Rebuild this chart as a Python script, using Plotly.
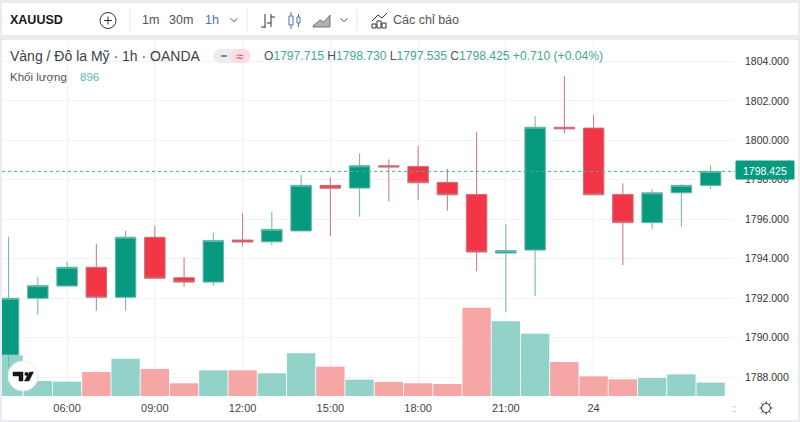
import math
import plotly.graph_objects as go

# hourly candles, 04:00 on the 23rd to 04:00 on the 24th
times = ["2021-08-23 04:00", "2021-08-23 05:00", "2021-08-23 06:00", "2021-08-23 07:00", "2021-08-23 08:00",
         "2021-08-23 09:00", "2021-08-23 10:00", "2021-08-23 11:00", "2021-08-23 12:00", "2021-08-23 13:00",
         "2021-08-23 14:00", "2021-08-23 15:00", "2021-08-23 16:00", "2021-08-23 17:00", "2021-08-23 18:00",
         "2021-08-23 19:00", "2021-08-23 20:00", "2021-08-23 21:00", "2021-08-23 22:00", "2021-08-23 23:00",
         "2021-08-24 00:00", "2021-08-24 01:00", "2021-08-24 02:00", "2021-08-24 03:00", "2021-08-24 04:00"]
opens = [1789.13, 1792.00, 1792.62, 1793.57, 1792.05, 1795.09, 1793.04, 1792.82, 1794.95, 1794.86, 1795.41, 1797.72,
         1797.58, 1798.71, 1798.68, 1797.87, 1797.26, 1794.29, 1794.44, 1800.66, 1800.62, 1797.26, 1795.83, 1797.34,
         1797.715]
highs = [1795.12, 1793.09, 1793.85, 1794.75, 1795.41, 1795.67, 1794.07, 1795.32, 1796.30, 1796.38, 1798.24, 1798.12,
         1799.34, 1799.04, 1799.71, 1798.56, 1800.42, 1795.76, 1801.23, 1803.25, 1801.29, 1797.82, 1797.55, 1797.77,
         1798.730]
lows = [1788.53, 1791.15, 1792.62, 1791.37, 1791.37, 1793.01, 1792.58, 1792.62, 1794.61, 1794.70, 1795.41, 1795.15,
        1796.13, 1796.89, 1796.97, 1796.43, 1793.38, 1791.30, 1792.11, 1800.35, 1797.24, 1793.68, 1795.51, 1795.62,
        1797.535]
closes = [1792.00, 1792.64, 1793.57, 1792.05, 1795.09, 1793.01, 1792.82, 1794.93, 1794.85, 1795.49, 1797.72, 1797.57,
          1798.71, 1798.65, 1797.85, 1797.24, 1794.34, 1794.42, 1800.66, 1800.58, 1797.24, 1795.83, 1797.34, 1797.72,
          1798.425]
volumes = [2720, 1000, 960, 1605, 2500, 1805, 850, 1720, 1720, 1520, 2855, 1965, 1095, 935, 850, 803, 5910, 4995,
           4170, 2275, 1315, 1115, 1205, 1450, 896]

price_ticks = [1788, 1790, 1792, 1794, 1796, 1798, 1800, 1802, 1804]
time_ticks = ["2021-08-23 06:00", "2021-08-23 09:00", "2021-08-23 12:00", "2021-08-23 15:00",
              "2021-08-23 18:00", "2021-08-23 21:00", "2021-08-24 00:00"]
time_labels = ["06:00", "09:00", "12:00", "15:00", "18:00", "21:00", "24"]

GREEN = "#089981"
RED = "#f23645"
GREY = "#50535e"
FONT = "Liberation Sans"
W, H = 800, 422


def px(x):
    return x / W


def py(y):
    return 1 - y / H


def line(x0, y0, x1, y1, color=GREY, width=1):
    return dict(type="line", xref="paper", yref="paper", x0=px(x0), y0=py(y0), x1=px(x1), y1=py(y1),
                line=dict(color=color, width=width))


def box(x0, y0, x1, y1, fill, color=None, width=0):
    return dict(type="rect", xref="paper", yref="paper", x0=px(x0), y0=py(y0), x1=px(x1), y1=py(y1),
                fillcolor=fill, line=dict(color=color or fill, width=width))


def circle(cx, cy, r, fill="rgba(0,0,0,0)", color=GREY, width=1):
    return dict(type="circle", xref="paper", yref="paper", x0=px(cx - r), y0=py(cy - r), x1=px(cx + r), y1=py(cy + r),
                fillcolor=fill, line=dict(color=color, width=width))


def poly(points, fill=None, color=GREY, width=1):
    d = "M" + " L".join(f"{px(a):.5f},{py(b):.5f}" for a, b in points)
    if fill:
        d += " Z"
    return dict(type="path", xref="paper", yref="paper", path=d, fillcolor=fill or "rgba(0,0,0,0)",
                line=dict(color=color, width=width))


def label(x, y, s, size=12, color=GREY, anchor="left", bold=False):
    return dict(xref="paper", yref="paper", x=px(x), y=py(y), text=f"<b>{s}</b>" if bold else s, showarrow=False,
                xanchor=anchor, yanchor="middle", font=dict(family=FONT, size=size, color=color),
                xshift=0, yshift=0, borderpad=0, borderwidth=0)


def chevron(cx, cy):
    return poly([(cx - 3.5, cy - 1.5), (cx, cy + 1.5), (cx + 3.5, cy - 1.5)], color="#555a66")


fig = go.Figure()
fig.add_trace(go.Bar(x=times, y=volumes, yaxis="y", xaxis="x", hoverinfo="skip",
                     marker=dict(color=["#93d2c9" if c >= o else "#f7a6a6" for o, c in zip(opens, closes)],
                                 line=dict(width=0))))
fig.add_trace(go.Candlestick(x=times, open=opens, high=highs, low=lows, close=closes, yaxis="y2", xaxis="x",
                             hoverinfo="skip", whiskerwidth=0,
                             increasing=dict(fillcolor=GREEN, line=dict(color="#66b8a9", width=1)),
                             decreasing=dict(fillcolor=RED, line=dict(color="#c8737d", width=1))))

shapes = [
    box(2, 3, 798, 35, "#ffffff"),
    box(2, 40, 798, 420, "#ffffff"),
]
overlay = [
    # price line
    dict(type="line", xref="paper", yref="y2", x0=px(2), x1=px(735), y0=closes[-1], y1=closes[-1],
         line=dict(color="#3fb39c", width=1, dash="dot")),
    # toolbar separators
    line(130, 9, 130, 31, "#e4e6ea"), line(247, 9, 247, 31, "#e4e6ea"), line(357, 9, 357, 31, "#e4e6ea"),
    # add symbol
    circle(108, 20.5, 8, color="#333"), line(104, 20.5, 112, 20.5, "#333"), line(108, 16.5, 108, 24.5, "#333"),
    chevron(234, 20), chevron(344, 20),
    # bar style icons
    line(265, 14, 265, 28, "#333"), line(261, 27, 265, 27, "#333"), line(271, 14, 271, 27, "#333"),
    line(271, 17, 275, 17, "#333"), line(267, 23, 271, 23, "#333"),
    box(289, 16, 293, 25, "#ffffff", "#4a6fb5", 1), line(291, 12, 291, 16, "#4a6fb5"), line(291, 25, 291, 29, "#4a6fb5"),
    box(297, 17, 300, 23, "#ffffff", "#4a6fb5", 1), line(298.5, 14, 298.5, 17, "#4a6fb5"),
    line(298.5, 23, 298.5, 27, "#4a6fb5"),
    poly([(313, 26), (320, 20), (324, 22), (330, 15), (330, 27), (313, 27)], fill="#aeb0b5", color="#777"),
    # indicators icon
    poly([(372, 21), (378, 15), (382, 18), (387, 13)], color="#333"),
    box(372, 24, 376, 28, "#ffffff", "#333", 1), box(377, 21, 381, 28, "#ffffff", "#333", 1),
    box(382, 23, 386, 28, "#ffffff", "#333", 1),
    # status pill
    box(221, 49, 232, 63, "#ebecef"), box(232, 49, 243, 63, "#fbdde3"),
    circle(221, 56, 7, fill="#ebecef", color="#ebecef"), circle(243, 56, 7, fill="#fbdde3", color="#fbdde3"),
    box(221, 55, 227, 57, "#8a8d96"),
    # last price tag
    box(736, 161, 794, 179, GREEN, GREEN, 1),
    # watermark
    circle(23, 376, 15, fill="#ffffff", color="#eeeeee"),
    poly([(13, 372), (23, 372), (23, 381), (19, 381), (19, 376), (13, 376)], fill="#16181d", color="#16181d", width=0.5),
    circle(26.5, 374, 1.8, fill="#16181d", color="#16181d", width=0.5),
    poly([(29.5, 372), (33.5, 372), (29, 381), (24.5, 381)], fill="#16181d", color="#16181d", width=0.5),
    # settings wheel
    circle(766, 408, 4.5, color="#333"),
]
for k in range(8):
    a = k * math.pi / 4
    overlay.append(line(766 + 4.5 * math.cos(a), 408 + 4.5 * math.sin(a),
                        766 + 6.5 * math.cos(a), 408 + 6.5 * math.sin(a), "#333"))

change = closes[-1] - opens[-1]
ohlc = (f'<span style="color:{GREY}">O</span>{opens[-1]:.3f} <span style="color:{GREY}">H</span>{highs[-1]:.3f} '
        f'<span style="color:{GREY}">L</span>{lows[-1]:.3f} <span style="color:{GREY}">C</span>{closes[-1]:.3f} '
        f'+{change:.3f} (+{change / opens[-1] * 100:.2f}%)')

annotations = [
    label(10, 20.5, "XAUUSD", 12.5, "#16181d", bold=True),
    label(142, 20.5, "1m", 12.5), label(169, 20.5, "30m", 12.5), label(205, 20.5, "1h", 12.5, "#4a6fb5"),
    label(393, 20.5, "Các chỉ báo", 12.5),
    label(10, 55.5, "Vàng / Đô la Mỹ · 1h · OANDA", 14, "#3b3e47"),
    label(10, 77, "Khối lượng", 11.5),
    label(80, 77, f"{volumes[-1]}", 11.5, "#5cb8ab"),
    label(236, 56, "≈", 13, "#d6395a"),
    label(264, 56, ohlc, 12.1, "#3fa890"),
    label(734, 408, ":", 10, "#999999", "center"),
    label(765, 170.5, f"{closes[-1]:.3f}", 10.5, "#ffffff", "center"),
]

fig.update_layout(
    width=W, height=H, margin=dict(l=0, r=0, t=0, b=0), autosize=False,
    paper_bgcolor="#e9ebef", plot_bgcolor="rgba(0,0,0,0)", showlegend=False, bargap=0.03, boxgap=0,
    font=dict(family=FONT, size=11, color="#333333"),
    xaxis=dict(domain=[2 / W, 735 / W], type="date", range=["2021-08-23 03:46:30", "2021-08-24 04:50:00"],
               rangeslider=dict(visible=False), tickmode="array", tickvals=time_ticks, ticktext=time_labels,
               showgrid=True, gridcolor="#eff1f6", gridwidth=1, zeroline=False, showline=False, ticks="",
               anchor="y", tickfont=dict(family=FONT, size=11, color="#444444"), ticklabelstandoff=4),
    yaxis=dict(domain=[1 - 396 / H, 1 - 41 / H], range=[0, 23750], visible=False, fixedrange=True),
    yaxis2=dict(domain=[1 - 396 / H, 1 - 41 / H], overlaying="y", side="right", anchor="x",
                range=[1787.05, 1805.03], tickmode="array", tickvals=price_ticks, tickformat=".3f",
                showgrid=True, gridcolor="#f1f3f7", gridwidth=1, zeroline=False, showline=False, ticks="",
                tickfont=dict(family=FONT, size=10.5, color="#333333"), ticklabelstandoff=9),
    shapes=[dict(s, layer="below") for s in shapes] + overlay,
    annotations=annotations,
)

fig.write_html("out.html", config=dict(displayModeBar=False),
               post_script="document.body.style.margin='0';document.body.style.overflow='hidden';")
